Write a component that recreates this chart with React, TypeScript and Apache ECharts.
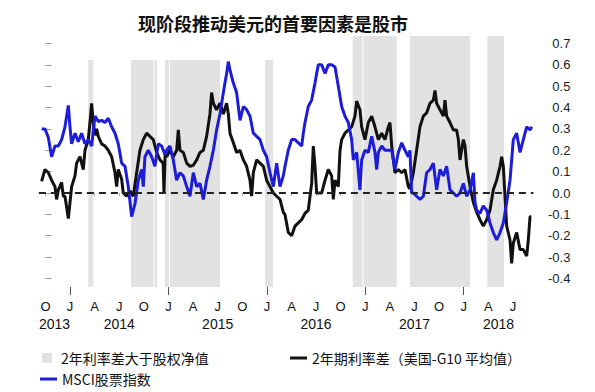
import React, { useEffect, useRef } from "react";
import * as echarts from "echarts";

// x values: months since October 2013 (0 = Oct 2013)
const TITLE = "现阶段推动美元的首要因素是股市";
const BAND_NAME = "2年利率差大于股权净值";
const RATE_NAME = "2年期利率差（美国-G10 平均值）";
const MSCI_NAME = "MSCI股票指数";

const monthTicks = ["O", "J", "A", "J", "O", "J", "A", "J", "O", "J", "A", "J", "O", "J", "A", "J", "O", "J", "A", "J"];
const yearLabels = ["2013", "2014", "2015", "2016", "2017", "2018"];
const yTickLabels = ["-0.4", "-0.3", "-0.2", "-0.1", "0.0", "0.1", "0.2", "0.3", "0.4", "0.5", "0.6", "0.7"];

// shaded periods: [start, end] in months since Oct 2013
const bands: [number, number][] = [
  [5.22, 5.83], [10.43, 13.17], [13.29, 13.6], [14.57, 15.06], [15.18, 21.28],
  [26.77, 27.74], [37.46, 38.66], [38.78, 42.83], [44.45, 51.77], [53.88, 55.91],
];

const rateDiff: [number, number][] = [
  [-0.47, 0.055], [-0.06, 0.11], [0.35, 0.095], [0.75, 0.06], [1.16, 0.03], [1.36, -0.03], [1.57, 0.015], [1.97, 0.05],
  [2.18, -0.015], [2.38, -0.015], [2.79, -0.12], [2.99, -0.045], [3.19, 0.03], [3.6, 0.08], [3.8, 0.14], [4.21, 0.17],
  [4.61, 0.11], [4.82, 0.2], [5.22, 0.25], [5.43, 0.33], [5.63, 0.42], [5.83, 0.33], [6.04, 0.27], [6.24, 0.3],
  [6.44, 0.265], [6.85, 0.23], [7.26, 0.22], [7.66, 0.2], [8.07, 0.17], [8.48, 0.095], [8.68, 0.03], [8.88, 0.11],
  [9.29, 0.065], [9.49, 0], [9.9, -0.015], [10.3, 0.01], [10.71, -0.015], [11.12, 0.095], [11.52, 0.2], [11.93, 0.25],
  [12.34, 0.28], [12.74, 0.265], [13.15, 0.25], [13.56, 0.19], [13.96, 0.155], [14.35, 0.14], [14.45, 0], [14.6, 0.19],
  [14.78, 0.17], [15.18, 0.2], [15.59, 0.17], [16.0, 0.2], [16.2, 0.295], [16.4, 0.2], [16.81, 0.19], [17.22, 0.14],
  [17.62, 0.125], [18.03, 0.13], [18.44, 0.155], [18.84, 0.19], [19.25, 0.2], [19.65, 0.265], [20.06, 0.37], [20.26, 0.47],
  [20.47, 0.42], [20.87, 0.39], [21.28, 0.42], [21.69, 0.37], [22.09, 0.42], [22.3, 0.37], [22.5, 0.28], [22.91, 0.235],
  [23.31, 0.19], [23.72, 0.2], [24.13, 0.155], [24.53, 0.125], [24.94, 0.06], [25.14, -0.015], [25.35, 0.095], [25.75, 0.155],
  [26.16, 0.14], [26.57, 0.125], [26.97, 0.06], [27.38, 0.03], [27.79, 0], [28.19, -0.015], [28.6, -0.03], [29.0, -0.09],
  [29.2, -0.1], [29.4, -0.14], [29.61, -0.185], [30.02, -0.2], [30.43, -0.155], [30.83, -0.14], [31.24, -0.125], [31.65, -0.095],
  [32.05, -0.08], [32.26, -0.015], [32.46, 0.045], [32.66, 0.22], [32.87, 0.125], [33.07, 0], [33.27, 0], [33.68, 0],
  [34.09, 0.06], [34.49, 0.11], [34.7, 0.095], [34.9, 0.08], [35.1, -0.03], [35.31, 0.06], [35.71, 0.03], [35.92, 0.2],
  [36.12, 0.25], [36.52, 0.28], [36.93, 0.295], [37.34, 0.31], [37.74, 0.36], [37.95, 0.43], [38.15, 0.41], [38.35, 0.39],
  [38.56, 0.31], [38.96, 0.25], [39.37, 0.33], [39.78, 0.36], [40.18, 0.31], [40.59, 0.25], [41.0, 0.28], [41.4, 0.25],
  [41.81, 0.31], [42.01, 0.33], [42.22, 0.22], [42.62, 0.095], [43.03, 0.11], [43.44, 0.095], [43.84, 0.11], [44.25, 0.03],
  [44.45, 0.02], [44.86, 0.095], [45.26, 0.2], [45.67, 0.31], [46.08, 0.36], [46.48, 0.375], [46.89, 0.42], [47.3, 0.435],
  [47.5, 0.48], [47.7, 0.42], [48.11, 0.39], [48.52, 0.36], [48.72, 0.435], [48.92, 0.36], [49.33, 0.33], [49.74, 0.295],
  [50.14, 0.295], [50.35, 0.25], [50.55, 0.155], [50.96, 0.25], [51.16, 0.22], [51.36, 0.125], [51.77, 0.03], [52.18, -0.045],
  [52.58, -0.09], [52.99, -0.125], [53.39, -0.155], [53.8, -0.125], [54.21, -0.08], [54.61, 0.015], [55.02, 0.06], [55.43, 0.125],
  [55.63, 0.17], [55.83, 0.125], [56.24, -0.155], [56.65, -0.22], [56.85, -0.33], [57.05, -0.235], [57.46, -0.185], [57.87, -0.265],
  [58.27, -0.265], [58.68, -0.295], [58.88, -0.22], [59.09, -0.11], [59.2, -0.11],
];

const msci: [number, number][] = [
  [-0.47, 0.3], [-0.06, 0.3], [0.35, 0.26], [0.75, 0.17], [1.16, 0.22], [1.57, 0.22], [1.97, 0.25], [2.38, 0.31],
  [2.79, 0.41], [2.99, 0.31], [3.19, 0.23], [3.6, 0.28], [4.0, 0.24], [4.41, 0.28], [4.82, 0.23], [5.22, 0.25],
  [5.63, 0.22], [6.04, 0.36], [6.44, 0.335], [6.85, 0.34], [7.26, 0.33], [7.66, 0.35], [8.07, 0.31], [8.48, 0.28],
  [8.88, 0.23], [9.29, 0.14], [9.7, 0.125], [10.1, 0.03], [10.51, -0.11], [10.92, -0.05], [11.32, 0.06], [11.73, 0.11],
  [11.93, 0.03], [12.13, 0.17], [12.54, 0.2], [12.95, 0.17], [13.35, 0.125], [13.76, 0.23], [14.17, 0.22], [14.57, 0.18],
  [14.78, 0.2], [15.18, 0.22], [15.59, 0.155], [16.0, 0.06], [16.4, 0.095], [16.81, 0.08], [17.22, 0.03], [17.62, -0.015],
  [18.03, 0.095], [18.44, 0.03], [18.84, 0.045], [19.25, -0.03], [19.65, 0.06], [20.06, 0.125], [20.47, 0.2], [20.87, 0.295],
  [21.28, 0.37], [21.69, 0.47], [22.09, 0.56], [22.3, 0.615], [22.5, 0.575], [22.91, 0.515], [23.31, 0.47], [23.72, 0.34],
  [24.13, 0.405], [24.53, 0.39], [24.94, 0.36], [25.35, 0.28], [25.75, 0.265], [26.16, 0.25], [26.57, 0.2], [26.97, 0.17],
  [27.38, 0.095], [27.79, 0.03], [28.19, 0.14], [28.6, 0.03], [29.0, 0.08], [29.21, 0.125], [29.61, 0.2], [30.02, 0.25],
  [30.43, 0.25], [30.83, 0.235], [31.24, 0.22], [31.44, 0.28], [31.65, 0.33], [32.05, 0.405], [32.46, 0.435], [32.87, 0.515],
  [33.07, 0.56], [33.27, 0.6], [33.68, 0.6], [34.09, 0.56], [34.49, 0.6], [34.9, 0.6], [35.31, 0.59], [35.71, 0.5],
  [36.12, 0.405], [36.52, 0.36], [36.93, 0.33], [37.34, 0.25], [37.54, 0.155], [37.95, 0.19], [38.35, 0.015], [38.56, 0.155],
  [38.96, 0.2], [39.37, 0.19], [39.78, 0.265], [40.18, 0.19], [40.39, 0.11], [40.59, 0.19], [41.0, 0.22], [41.4, 0.2],
  [41.81, 0.2], [42.22, 0.2], [42.62, 0.11], [43.03, 0.19], [43.44, 0.235], [43.84, 0.2], [44.25, 0.17], [44.45, 0.2],
  [44.65, 0], [44.86, 0], [45.26, -0.015], [45.67, -0.03], [46.08, -0.015], [46.48, 0.095], [46.89, 0.11], [47.3, 0.14],
  [47.7, 0.015], [48.11, 0.11], [48.52, 0.08], [48.92, 0.125], [49.33, 0.015], [49.74, 0], [50.14, -0.015], [50.55, 0],
  [50.96, 0.045], [51.36, -0.015], [51.77, 0.015], [52.18, 0.095], [52.38, -0.045], [52.58, -0.08], [52.99, -0.095], [53.39, -0.06],
  [53.8, -0.08], [54.21, -0.14], [54.61, -0.185], [55.02, -0.22], [55.43, -0.185], [55.83, -0.14], [56.24, -0.045], [56.65, 0.06],
  [57.05, 0.25], [57.46, 0.28], [57.87, 0.19], [58.27, 0.25], [58.68, 0.31], [59.09, 0.295], [59.29, 0.31],
];

const X_MIN = -0.8;
const X_MAX = 59.5;
const Y_MIN = -0.44;
const Y_MAX = 0.735;
const FONT_CJK = "'Noto Sans CJK SC', sans-serif";
const FONT_LAT = "'Liberation Sans', Arial, sans-serif";

export default function App() {
  const ref = useRef<HTMLDivElement>(null);
  useEffect(() => {
    if (!ref.current) return;
    const chart = echarts.init(ref.current, null, { renderer: "svg" });

    const yTickValues = yTickLabels.map((s) => parseFloat(s));
    const yTickMin = yTickValues[0];
    const yTickMax = yTickValues[yTickValues.length - 1];
    const yTickStep = +(yTickValues[1] - yTickValues[0]).toFixed(6);

    const quarterPos = monthTicks.map((_, i) => i * 3);
    const janPos = yearLabels.slice(1).map((_, i) => 3 + 12 * i);
    const yearPos = yearLabels.map((_, k) => {
      const s = Math.max(X_MIN, 12 * k - 9);
      const e = Math.min(X_MAX, 12 * k + 3);
      return (s + e) / 2;
    });

    // plot grid geometry
    const gLeft = 38.9;
    const gRight = 61.6;
    const gTop = 36;
    const gBottom = 105;
    const gHeight = 392 - gTop - gBottom;
    const pxPerUnit = gHeight / (Y_MAX - Y_MIN);
    // a second grid whose y extent matches the labelled tick range exactly
    const lTop = gTop + (Y_MAX - yTickMax) * pxPerUnit;
    const lBottom = gBottom + (yTickMin - Y_MIN) * pxPerUnit;

    const baseX = {
      type: "value",
      min: X_MIN,
      max: X_MAX,
      position: "bottom",
      gridIndex: 0,
      axisLine: { show: false },
      splitLine: { show: false },
    };

    chart.setOption({
      animation: false,
      backgroundColor: "#ffffff",
      title: {
        text: TITLE,
        left: 138,
        top: 14,
        padding: 0,
        textStyle: { fontSize: 18, fontWeight: "bold", color: "#111", fontFamily: FONT_CJK },
      },
      legend: [
        {
          data: [{ name: BAND_NAME, icon: "rect" }],
          left: 42,
          top: 351,
          padding: 0,
          itemWidth: 10,
          itemHeight: 10,
          selectedMode: false,
          textStyle: { fontSize: 14, color: "#111", fontFamily: FONT_CJK, padding: [0, 0, 0, 4] },
        },
        {
          data: [{ name: RATE_NAME, icon: "rect" }],
          left: 290,
          top: 351,
          padding: 0,
          itemWidth: 17,
          itemHeight: 3,
          selectedMode: false,
          textStyle: { fontSize: 14, color: "#111", fontFamily: FONT_CJK },
        },
        {
          data: [{ name: MSCI_NAME, icon: "rect" }],
          left: 40,
          top: 372,
          padding: 0,
          itemWidth: 17,
          itemHeight: 3,
          selectedMode: false,
          textStyle: { fontSize: 14, color: "#111", fontFamily: FONT_CJK },
        },
      ],
      grid: [
        { left: gLeft, right: gRight, top: gTop, bottom: gBottom, containLabel: false },
        { left: gLeft, right: gRight, top: lTop, bottom: lBottom, containLabel: false },
      ],
      xAxis: [
        {
          ...baseX,
          offset: 2,
          axisTick: { show: true, length: 3, customValues: quarterPos, lineStyle: { color: "#aaa", width: 1 } },
          axisLabel: {
            show: true,
            customValues: quarterPos,
            margin: 11,
            fontSize: 13,
            color: "#111",
            fontFamily: FONT_LAT,
            formatter: (v: number) => monthTicks[Math.round(v / 3)] ?? "",
          },
        },
        {
          ...baseX,
          axisTick: { show: true, length: 8, customValues: janPos, lineStyle: { color: "#555", width: 1 } },
          axisLabel: { show: false },
        },
        {
          ...baseX,
          axisTick: { show: false },
          axisLabel: {
            show: true,
            customValues: yearPos,
            margin: 30,
            fontSize: 14,
            color: "#111",
            fontFamily: FONT_LAT,
            formatter: (v: number) => {
              const k = yearPos.findIndex((p) => Math.abs(p - v) < 1e-6);
              return k >= 0 ? yearLabels[k] : "";
            },
          },
        },
        {
          type: "value",
          gridIndex: 1,
          min: X_MIN,
          max: X_MAX,
          show: false,
        },
      ],
      yAxis: [
        {
          type: "value",
          gridIndex: 0,
          min: Y_MIN,
          max: Y_MAX,
          show: false,
          splitLine: { show: false },
        },
        {
          type: "value",
          gridIndex: 1,
          position: "right",
          min: yTickMin,
          max: yTickMax,
          interval: yTickStep,
          axisLine: { show: false },
          splitLine: { show: false },
          axisTick: { show: true, length: 6, lineStyle: { color: "#999" } },
          axisLabel: {
            show: true,
            showMinLabel: true,
            showMaxLabel: true,
            align: "right",
            margin: 37,
            fontSize: 13,
            color: "#222",
            fontFamily: FONT_LAT,
            formatter: (v: number) => {
              const k = yTickValues.findIndex((t) => Math.abs(t - v) < 1e-6);
              return k >= 0 ? yTickLabels[k] : "";
            },
          },
        },
      ],
      series: [
        {
          name: BAND_NAME,
          type: "custom",
          xAxisIndex: 0,
          yAxisIndex: 0,
          z: 1,
          silent: true,
          itemStyle: { color: "#e2e2e2" },
          encode: { x: [0, 1] },
          data: bands,
          renderItem: (params: any, api: any) => {
            const p0 = api.coord([api.value(0), 0]);
            const p1 = api.coord([api.value(1), 0]);
            const cs = params.coordSys;
            const top = p0[0] < 345 ? 60 : cs.y;
            const bottom = cs.y + cs.height;
            return {
              type: "rect",
              shape: { x: p0[0], y: top, width: p1[0] - p0[0], height: bottom - top },
              style: { fill: "#e2e2e2" },
            };
          },
        },
        {
          name: RATE_NAME,
          type: "line",
          xAxisIndex: 0,
          yAxisIndex: 0,
          z: 3,
          data: rateDiff,
          showSymbol: false,
          symbol: "none",
          itemStyle: { color: "#111" },
          lineStyle: { color: "#111", width: 3 },
          markLine: {
            silent: true,
            symbol: ["none", "none"],
            label: { show: false },
            lineStyle: { type: [7, 5], color: "#222", width: 2.2 },
            data: [{ yAxis: 0 }],
          },
        },
        {
          name: MSCI_NAME,
          type: "line",
          xAxisIndex: 0,
          yAxisIndex: 0,
          z: 4,
          data: msci,
          showSymbol: false,
          symbol: "none",
          itemStyle: { color: "#1d1dd8" },
          lineStyle: { color: "#1d1dd8", width: 3 },
        },
      ],
    });

    return () => chart.dispose();
  }, []);

  return (
    <div
      ref={ref}
      style={{ position: "absolute", left: 0, top: 0, width: 595, height: 392, background: "#fff" }}
    />
  );
}
